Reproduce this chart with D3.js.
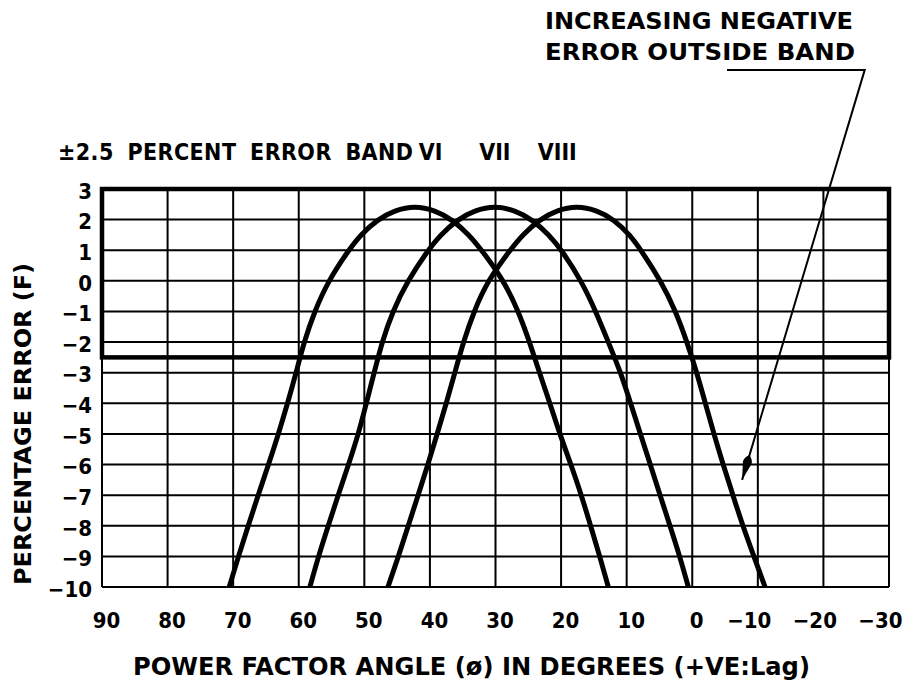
<!DOCTYPE html>
<html>
<head>
<meta charset="utf-8">
<script src="https://cdn.jsdelivr.net/npm/d3@7"></script>
<style>
  html, body { margin: 0; padding: 0; background: #fff; }
  svg text {
    font-family: "DejaVu Sans Condensed", "DejaVu Sans", sans-serif;
    font-weight: bold;
    fill: #000;
  }
</style>
</head>
<body>
<div id="chart"></div>
<script>
// --- data ---
const xTicks = [90, 80, 70, 60, 50, 40, 30, 20, 10, 0, -10, -20, -30];
const yTicks = [3, 2, 1, 0, -1, -2, -3, -4, -5, -6, -7, -8, -9, -10];
const bandLimits = [2.5, -2.5]; // +-2.5 percent error band (drawn 3 .. -2.5)

// error levels shared by every curve, left flank -> peak -> right flank
const errorLevels = [-10, -9, -8, -7, -6, -5, -4, -3, -2, -1, 0, 1, 1.5, 2, 2.3, 2.45,
  2.3, 2, 1.5, 1, 0, -1, -2, -3, -4, -5, -6, -7, -8, -9, -10];

// power factor angle (deg) at each error level
const anglesVI = [70.6, 69.2, 67.7, 66.2, 64.6, 63.1, 61.7, 60.4, 59.2, 57.6, 55.5, 52.4, 50.6, 48.0, 45.4, 42.3,
  39.2, 36.6, 34.0, 32.1, 28.7, 26.5, 24.8, 23.3, 21.7, 20.2, 18.5, 16.9, 15.5, 14.1, 12.8];
const anglesVII = [58.3, 57.0, 55.5, 54.0, 52.4, 50.9, 49.7, 48.5, 47.3, 45.7, 43.4, 40.3, 38.4, 35.8, 33.2, 30.1,
  27.0, 24.4, 21.8, 19.9, 16.9, 14.7, 12.8, 10.9, 9.4, 7.9, 6.4, 4.9, 3.4, 1.9, 0.6];
const anglesVIII = [46.4, 44.8, 43.3, 41.8, 40.3, 38.9, 37.5, 36.2, 34.9, 33.3, 31.2, 27.8, 25.9, 23.3, 20.7, 17.6,
  14.5, 11.9, 9.5, 7.8, 4.8, 2.5, 0.8, -0.7, -2.0, -3.3, -4.7, -6.2, -7.7, -9.4, -11.1];

const seriesNames = ['VI', 'VII', 'VIII'];
const seriesAngles = [anglesVI, anglesVII, anglesVIII];

// annotation leader (angle, error)
const leaderAngles = [-5.3, -26.3, -7.6];
const leaderValues = [6.89, 6.89, -6.5];

const width = 907;
const height = 695;

const svg = d3.select('#chart').append('svg')
  .attr('width', width)
  .attr('height', height)
  .attr('viewBox', [0, 0, width, height]);

const x = d3.scaleLinear().domain([90, -30]).range([102, 889]);
const y = d3.scaleLinear().domain([-10, 3]).range([587, 189]);

// --- grid ---
const grid = svg.append('g').attr('stroke', '#000').attr('stroke-width', 2);
grid.selectAll('line.v')
  .data(xTicks)
  .join('line')
  .attr('class', 'v')
  .attr('x1', (d) => x(d)).attr('x2', (d) => x(d))
  .attr('y1', y(-10)).attr('y2', y(3));
grid.selectAll('line.h')
  .data(yTicks)
  .join('line')
  .attr('class', 'h')
  .attr('x1', x(90)).attr('x2', x(-30))
  .attr('y1', (d) => y(d)).attr('y2', (d) => y(d));

// bold box of the error band
svg.append('rect')
  .attr('x', x(90))
  .attr('y', y(3))
  .attr('width', x(-30) - x(90))
  .attr('height', y(bandLimits[1]) - y(3))
  .attr('fill', 'none')
  .attr('stroke', '#000')
  .attr('stroke-width', 4.5);

// --- curves ---
const line = d3.line()
  .x((d) => x(d[0]))
  .y((d) => y(d[1]))
  .curve(d3.curveBasis);

svg.append('g')
  .selectAll('path')
  .data(seriesAngles.map((angles) => angles.map((a, i) => [a, errorLevels[i]])))
  .join('path')
  .attr('d', line)
  .attr('fill', 'none')
  .attr('stroke', '#000')
  .attr('stroke-width', 5)
  .attr('stroke-linejoin', 'round');

// --- axes ---
const fmt = (d) => (d < 0 ? '\u2212' + Math.abs(d) : String(d));

const xAxis = svg.append('g')
  .attr('transform', `translate(0,${y(-10)})`)
  .call(d3.axisBottom(x).tickValues(xTicks).tickSize(0).tickPadding(25).tickFormat(fmt));
xAxis.select('.domain').remove();
xAxis.selectAll('text')
  .attr('font-size', 22)
  .attr('font-family', null)
  .attr('text-anchor', (d) => (d < 0 ? 'end' : 'middle'))
  .attr('dx', (d) => (d < 0 ? 13 : 4));

const yAxis = svg.append('g')
  .attr('transform', `translate(${x(90)},0)`)
  .call(d3.axisLeft(y).tickValues(yTicks).tickSize(0).tickPadding(10).tickFormat(fmt));
yAxis.select('.domain').remove();
yAxis.selectAll('text')
  .attr('font-size', 22)
  .attr('font-family', null)
  .attr('dy', '0.42em');

// --- titles ---
svg.append('text')
  .attr('x', 58)
  .attr('y', 160)
  .attr('font-size', 23)
  .attr('word-spacing', 6)
  .attr('textLength', 355)
  .attr('lengthAdjust', 'spacing')
  .text('\u00B12.5 PERCENT ERROR BAND');

const peakIdx = errorLevels.indexOf(d3.max(errorLevels));
const labelAnchors = ['start', 'middle', 'end'];
svg.append('g')
  .selectAll('text')
  .data(seriesNames)
  .join('text')
  .attr('x', (d, i) => x(seriesAngles[i][peakIdx]) + (i === 0 ? 4 : 0))
  .attr('y', 160)
  .attr('font-size', 23)
  .attr('text-anchor', (d, i) => labelAnchors[i])
  .text((d) => d);

svg.append('text')
  .attr('transform', 'translate(31,424) rotate(-90)')
  .attr('text-anchor', 'middle')
  .attr('font-size', 23)
  .attr('textLength', 322)
  .attr('lengthAdjust', 'spacingAndGlyphs')
  .text('PERCENTAGE ERROR (F)');

svg.append('text')
  .attr('x', 133)
  .attr('y', 675)
  .attr('font-size', 24)
  .attr('textLength', 677)
  .attr('lengthAdjust', 'spacingAndGlyphs')
  .text('POWER FACTOR ANGLE (\u00F8) IN DEGREES (+VE:Lag)');

// --- annotation ---
svg.append('text')
  .attr('x', 545).attr('y', 29)
  .attr('font-size', 23)
  .attr('textLength', 308)
  .attr('lengthAdjust', 'spacingAndGlyphs')
  .text('INCREASING NEGATIVE');
svg.append('text')
  .attr('x', 545).attr('y', 60)
  .attr('font-size', 23)
  .attr('textLength', 310)
  .attr('lengthAdjust', 'spacingAndGlyphs')
  .text('ERROR OUTSIDE BAND');

svg.append('defs')
  .append('marker')
  .attr('id', 'arrowhead')
  .attr('viewBox', '0 -5 26 10')
  .attr('refX', 26)
  .attr('refY', 0)
  .attr('orient', 'auto')
  .attr('markerUnits', 'userSpaceOnUse')
  .attr('markerWidth', 26)
  .attr('markerHeight', 10)
  .append('path')
  .attr('d', 'M0,0 Q4,-4.5 8,-4.5 L26,0 L8,4.5 Q4,4.5 0,0 Z')
  .attr('fill', '#000');

svg.append('path')
  .datum(leaderAngles.map((a, i) => [a, leaderValues[i]]))
  .attr('d', d3.line().x((d) => x(d[0])).y((d) => y(d[1])))
  .attr('fill', 'none')
  .attr('stroke', '#000')
  .attr('stroke-width', 2)
  .attr('marker-end', 'url(#arrowhead)');
</script>
</body>
</html>
